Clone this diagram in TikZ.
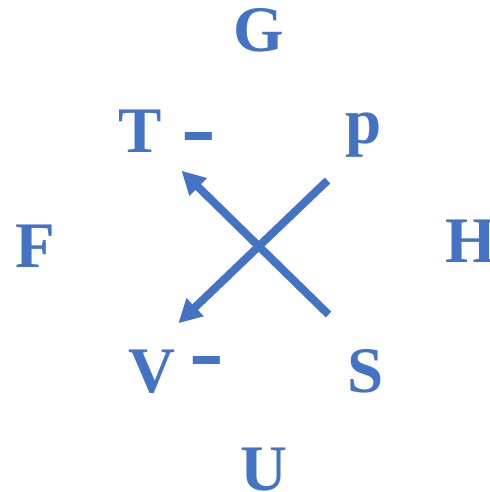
\documentclass[tikz,border=0pt]{standalone}
\usepackage{fontspec}
\setmainfont{LiberationSerif}[Extension=.ttf,UprightFont=*-Regular,BoldFont=*-Bold]
\usetikzlibrary{arrows.meta}
\definecolor{accent}{HTML}{4472C4}
\begin{document}
\begin{tikzpicture}[x=0.75pt,y=-0.75pt,
  letter/.style={anchor=base,inner sep=0pt,text=accent,font=\fontsize{48.75}{50}\selectfont\bfseries},
  dashmark/.style={anchor=base,inner sep=0pt,text=accent,font=\fontsize{52}{54}\selectfont\bfseries},
  arrowline/.style={draw=accent,line width=6pt,-{Triangle[length=17.5pt,width=17.5pt]}}]
\useasboundingbox (0,0) rectangle (489,492);
\node[letter] (G) at (258.5,52) {G};
\node[letter] (T) at (140,152) {T};
\node[dashmark] (Td) at (198.5,158) {\scalebox{1.5}[1.35]{-}};
\node[letter] (p) at (364,143) {p};
\node[letter] (F) at (35,267) {F};
\node[letter] (H) at (471,262) {H};
\node[letter] (V) at (152,392) {V};
\node[dashmark] (Vd) at (206.5,382.5) {\scalebox{1.5}[1.35]{-}};
\node[letter] (S) at (366,392) {S};
\node[letter] (U) at (263.5,490) {U};
\coordinate (a1) at (327.5,180.5);
\coordinate (a2) at (178.3,323.3);
\coordinate (b1) at (328.5,314.5);
\coordinate (b2) at (181.5,170.7);
\draw[arrowline] (a1) -- (a2);
\draw[arrowline] (b1) -- (b2);
\end{tikzpicture}
\end{document}
